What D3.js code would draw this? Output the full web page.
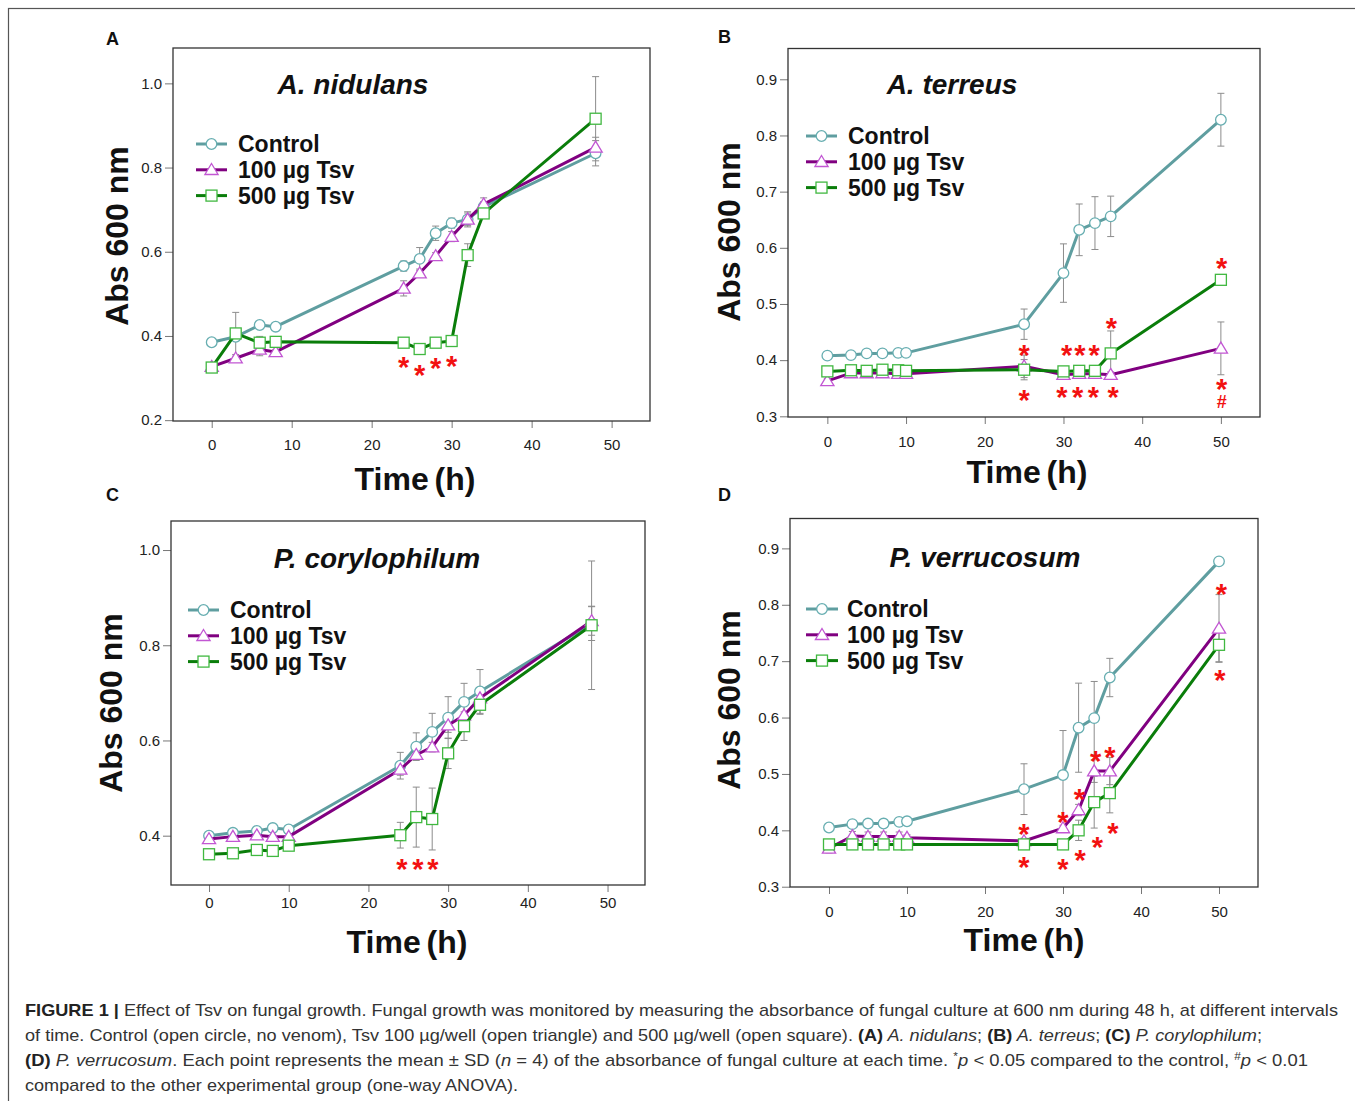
<!DOCTYPE html>
<html>
<head>
<meta charset="utf-8">
<script src="https://cdn.jsdelivr.net/npm/d3@7"></script>
<style>
  body { margin: 0; background: #fff; }
  svg { display: block; }
  text { font-family: "Liberation Sans", Arial, Helvetica, sans-serif; }
</style>
</head>
<body>
<script>
// ---- data ----
var seriesNames = ["Control", "100 µg Tsv", "500 µg Tsv"];
var xTicks = [0, 10, 20, 30, 40, 50];

// A. nidulans
var timesA = [0, 3, 6, 8, 24, 26, 28, 30, 32, 34, 48];
var controlA = [0.385, 0.398, 0.426, 0.422, 0.566, 0.583, 0.644, 0.668, 0.677, 0.707, 0.834];
var tsv100A = [0.327, 0.347, 0.368, 0.362, 0.513, 0.549, 0.590, 0.636, 0.677, 0.713, 0.848];
var tsv500A = [0.325, 0.406, 0.384, 0.386, 0.384, 0.369, 0.384, 0.388, 0.592, 0.691, 0.916];
var sdControlA = [0.004, 0.005, 0.005, 0.005, 0.012, 0.027, 0.017, 0.012, 0.018, 0.012, 0.030];
var sd100A = [0.004, 0.005, 0.015, 0.006, 0.018, 0.010, 0.008, 0.012, 0.015, 0.015, 0.024];
var sd500A = [0.005, 0.050, 0.015, 0.005, 0.005, 0.005, 0.005, 0.005, 0.027, 0.006, 0.100];
var yTicksA = [0.2, 0.4, 0.6, 0.8, 1.0];
var starsA = [[24, 0.343, "*"], [26, 0.324, "*"], [28, 0.339, "*"], [30, 0.345, "*"]];

// A. terreus
var timesB = [0, 3, 5, 7, 9, 10, 25, 30, 32, 34, 36, 50];
var controlB = [0.408, 0.409, 0.412, 0.412, 0.413, 0.413, 0.464, 0.555, 0.632, 0.644, 0.656, 0.828];
var tsv100B = [0.363, 0.377, 0.377, 0.377, 0.376, 0.376, 0.389, 0.374, 0.376, 0.376, 0.374, 0.421];
var tsv500B = [0.380, 0.382, 0.381, 0.383, 0.382, 0.381, 0.383, 0.380, 0.381, 0.381, 0.412, 0.543];
var sdControlB = [0.003, 0.003, 0.003, 0.003, 0.003, 0.003, 0.027, 0.052, 0.046, 0.047, 0.036, 0.047];
var sd100B = [0.004, 0.004, 0.004, 0.004, 0.004, 0.004, 0.020, 0.005, 0.005, 0.005, 0.005, 0.047];
var sd500B = [0.008, 0.004, 0.004, 0.004, 0.004, 0.004, 0.018, 0.004, 0.004, 0.004, 0.040, 0.004];
var yTicksB = [0.3, 0.4, 0.5, 0.6, 0.7, 0.8, 0.9];
var starsB = [[25, 0.422, "*"], [25, 0.341, "*"],
              [30.4, 0.422, "*"], [32.1, 0.422, "*"], [33.9, 0.422, "*"],
              [29.8, 0.346, "*"], [31.8, 0.346, "*"], [33.8, 0.346, "*"], [36.3, 0.346, "*"],
              [36.1, 0.469, "*"], [50.1, 0.577, "*"], [50.1, 0.361, "*"], [50.1, 0.326, "#"]];

// P. corylophilum
var timesC = [0, 3, 6, 8, 10, 24, 26, 28, 30, 32, 34, 48];
var controlC = [0.400, 0.406, 0.410, 0.416, 0.413, 0.547, 0.587, 0.618, 0.648, 0.681, 0.703, 0.846];
var tsv100C = [0.393, 0.398, 0.401, 0.398, 0.398, 0.539, 0.570, 0.586, 0.632, 0.653, 0.689, 0.851];
var tsv500C = [0.361, 0.363, 0.370, 0.368, 0.379, 0.401, 0.439, 0.435, 0.573, 0.630, 0.675, 0.842];
var sdControlC = [0.003, 0.003, 0.003, 0.003, 0.003, 0.028, 0.029, 0.039, 0.044, 0.039, 0.046, 0.036];
var sd100C = [0.003, 0.003, 0.003, 0.003, 0.003, 0.012, 0.010, 0.010, 0.015, 0.020, 0.020, 0.030];
var sd500C = [0.003, 0.003, 0.003, 0.003, 0.003, 0.027, 0.063, 0.065, 0.032, 0.030, 0.020, 0.135];
var yTicksC = [0.4, 0.6, 0.8, 1.0];
var starsC = [[24.2, 0.344, "*"], [26.2, 0.344, "*"], [28.1, 0.344, "*"]];

// P. verrucosum
var timesD = [0, 3, 5, 7, 9, 10, 25, 30, 32, 34, 36, 50];
var controlD = [0.405, 0.411, 0.412, 0.412, 0.415, 0.416, 0.473, 0.498, 0.582, 0.599, 0.671, 0.877];
var tsv100D = [0.368, 0.390, 0.389, 0.389, 0.389, 0.387, 0.381, 0.404, 0.436, 0.505, 0.505, 0.758];
var tsv500D = [0.375, 0.375, 0.375, 0.375, 0.375, 0.375, 0.375, 0.375, 0.400, 0.450, 0.466, 0.729];
var sdControlD = [0.003, 0.003, 0.003, 0.003, 0.003, 0.003, 0.045, 0.079, 0.079, 0.065, 0.034, 0.004];
var sd100D = [0.008, 0.008, 0.008, 0.008, 0.008, 0.005, 0.005, 0.005, 0.010, 0.020, 0.024, 0.060];
var sd500D = [0.003, 0.003, 0.003, 0.003, 0.003, 0.003, 0.003, 0.003, 0.018, 0.046, 0.035, 0.030];
var yTicksD = [0.3, 0.4, 0.5, 0.6, 0.7, 0.8, 0.9];
var starsD = [[25, 0.405, "*"], [25, 0.347, "*"], [30, 0.426, "*"], [30, 0.344, "*"],
              [32.1, 0.467, "*"], [32.2, 0.360, "*"], [34.2, 0.535, "*"], [34.4, 0.383, "*"],
              [36, 0.542, "*"], [36.4, 0.408, "*"], [50.3, 0.832, "*"], [50.1, 0.678, "*"]];

// ---- layout ----
var panels = [
  {letter: "A", title: "A. nidulans", times: timesA, vals: [controlA, tsv100A, tsv500A], sds: [sdControlA, sd100A, sd500A],
   yTicks: yTicksA, stars: starsA, box: [173, 48, 650, 421], xd: [-4.84, 54.8], yd: [0.198, 1.084],
   let: [106, 45], tit: [353, 94], leg: [196, 227, 238, 144], yl: [128, 236], xl: [415, 490], xPad: 11},
  {letter: "B", title: "A. terreus", times: timesB, vals: [controlB, tsv100B, tsv500B], sds: [sdControlB, sd100B, sd500B],
   yTicks: yTicksB, stars: starsB, box: [788, 48.5, 1260, 417], xd: [-5.0, 54.97], yd: [0.2988, 0.9548],
   let: [718, 43], tit: [952, 94], leg: [806, 837, 848, 136], yl: [740, 232], xl: [1027, 483], xPad: 12},
  {letter: "C", title: "P. corylophilum", times: timesC, vals: [controlC, tsv100C, tsv500C], sds: [sdControlC, sd100C, sd500C],
   yTicks: yTicksC, stars: starsC, box: [171, 521, 645, 885], xd: [-4.77, 54.7], yd: [0.2964, 1.061],
   let: [106, 501], tit: [377, 568], leg: [188, 219, 230, 610], yl: [122, 703], xl: [407, 953], xPad: 5},
  {letter: "D", title: "P. verrucosum", times: timesD, vals: [controlD, tsv100D, tsv500D], sds: [sdControlD, sd100D, sd500D],
   yTicks: yTicksD, stars: starsD, box: [790, 518.5, 1258, 887], xd: [-5.0, 55.0], yd: [0.2995, 0.953],
   let: [718, 501], tit: [985, 567], leg: [806, 838, 847, 609], yl: [740, 700], xl: [1024, 951], xPad: 12}
];

var lineColors = ["#5f9ea0", "#800080", "#0a7d0a"];
var markerColors = ["#67aeb1", "#c257d3", "#40b840"];
var shapes = ["circle", "triangle", "square"];
var fontStack = "Liberation Sans, Arial, Helvetica, sans-serif";

var svg = d3.select("body").append("svg")
    .attr("width", 1355)
    .attr("height", 1101);

svg.append("rect")
    .attr("x", 8.5).attr("y", 8.5)
    .attr("width", 1400).attr("height", 1200)
    .attr("fill", "none")
    .attr("stroke", "#555")
    .attr("stroke-width", 1.2);

function addMarker(sel, shape, color) {
  var m;
  if (shape == "circle") {
    m = sel.append("circle").attr("r", 5.3);
  } else if (shape == "triangle") {
    m = sel.append("path").attr("d", "M0,-6.3L6.6,4.7L-6.6,4.7Z");
  } else {
    m = sel.append("rect").attr("x", -5.5).attr("y", -5.5).attr("width", 11).attr("height", 11);
  }
  m.attr("fill", "#fff").attr("stroke", color).attr("stroke-width", 1.3);
}

panels.forEach(function(p) {
  var g = svg.append("g");
  var x = d3.scaleLinear().domain(p.xd).range([p.box[0], p.box[2]]);
  var y = d3.scaleLinear().domain(p.yd).range([p.box[3], p.box[1]]);

  var yAxis = g.append("g")
      .attr("transform", "translate(" + p.box[0] + ",0)")
      .call(d3.axisLeft(y).tickValues(p.yTicks).tickFormat(d3.format(".1f")).tickSize(8).tickPadding(3));
  var xAxis = g.append("g")
      .attr("transform", "translate(0," + p.box[3] + ")")
      .call(d3.axisBottom(x).tickValues(xTicks).tickSize(7).tickPadding(p.xPad));
  [yAxis, xAxis].forEach(function(a) {
    a.select(".domain").remove();
    a.attr("font-size", 15).attr("font-family", fontStack);
    a.selectAll("line").attr("stroke", "#777");
    a.selectAll("text").attr("fill", "#222");
  });

  g.append("rect")
      .attr("x", p.box[0]).attr("y", p.box[1])
      .attr("width", p.box[2] - p.box[0])
      .attr("height", p.box[3] - p.box[1])
      .attr("fill", "none")
      .attr("stroke", "#333")
      .attr("stroke-width", 1.3);

  // error bars under everything
  var eb = g.append("g").attr("stroke", "#8c8c8c").attr("stroke-width", 1);
  p.vals.forEach(function(vals, i) {
    vals.forEach(function(v, j) {
      var cx = x(p.times[j]), lo = y(v - p.sds[i][j]), hi = y(v + p.sds[i][j]);
      eb.append("line").attr("x1", cx).attr("x2", cx).attr("y1", lo).attr("y2", hi);
      eb.append("line").attr("x1", cx - 3.5).attr("x2", cx + 3.5).attr("y1", lo).attr("y2", lo);
      eb.append("line").attr("x1", cx - 3.5).attr("x2", cx + 3.5).attr("y1", hi).attr("y2", hi);
    });
  });

  var line = d3.line()
      .x(function(d, j) { return x(p.times[j]); })
      .y(function(d) { return y(d); });

  p.vals.forEach(function(vals, i) {
    g.append("path")
        .datum(vals)
        .attr("fill", "none")
        .attr("stroke", lineColors[i])
        .attr("stroke-width", 3)
        .attr("stroke-linejoin", "round")
        .attr("d", line);
    var mk = g.append("g").selectAll("g")
        .data(vals)
        .enter().append("g")
        .attr("transform", function(d, j) { return "translate(" + x(p.times[j]) + "," + y(d) + ")"; });
    addMarker(mk, shapes[i], markerColors[i]);
  });

  // significance marks
  g.append("g").selectAll("text")
      .data(p.stars)
      .enter().append("text")
      .attr("x", function(d) { return x(d[0]); })
      .attr("y", function(d) { return y(d[1]); })
      .attr("dy", function(d) { return d[2] == "#" ? "0.36em" : "0.58em"; })
      .attr("text-anchor", "middle")
      .attr("font-weight", "bold")
      .attr("font-size", function(d) { return d[2] == "#" ? 18 : 29; })
      .attr("fill", "#f21111")
      .text(function(d) { return d[2]; });

  // legend
  seriesNames.forEach(function(name, i) {
    var ly = p.leg[3] + i * 25.8;
    g.append("line")
        .attr("x1", p.leg[0]).attr("x2", p.leg[1])
        .attr("y1", ly).attr("y2", ly)
        .attr("stroke", lineColors[i])
        .attr("stroke-width", 3);
    addMarker(g.append("g").attr("transform", "translate(" + (p.leg[0] + p.leg[1]) / 2 + "," + ly + ")"), shapes[i], markerColors[i]);
    g.append("text")
        .attr("x", p.leg[2]).attr("y", ly + 8)
        .attr("font-size", 23)
        .attr("font-weight", "bold")
        .attr("fill", "#111")
        .text(name);
  });

  g.append("text")
      .attr("x", p.tit[0]).attr("y", p.tit[1])
      .attr("text-anchor", "middle")
      .attr("font-size", 28)
      .attr("font-weight", "bold")
      .attr("font-style", "italic")
      .attr("fill", "#111")
      .text(p.title);

  g.append("text")
      .attr("x", p.let[0]).attr("y", p.let[1])
      .attr("font-size", 18)
      .attr("font-weight", "bold")
      .attr("fill", "#111")
      .text(p.letter);

  g.append("text")
      .attr("transform", "translate(" + p.yl[0] + "," + p.yl[1] + ")rotate(-90)")
      .attr("text-anchor", "middle")
      .attr("font-size", 32)
      .attr("font-weight", "bold")
      .attr("fill", "#111")
      .text("Abs 600 nm");

  g.append("text")
      .attr("x", p.xl[0]).attr("y", p.xl[1])
      .attr("text-anchor", "middle")
      .attr("font-size", 32)
      .attr("font-weight", "bold")
      .attr("word-spacing", -3)
      .attr("fill", "#111")
      .text("Time (h)");
});

// ---- caption ----
var captionLines = [
  {y: 1016, w: 1313, parts: [["b", "FIGURE 1 | "], ["", "Effect of Tsv on fungal growth. Fungal growth was monitored by measuring the absorbance of fungal culture at 600 nm during 48 h, at different intervals"]]},
  {y: 1041, w: 1237, parts: [["", "of time. Control (open circle, no venom), Tsv 100 µg/well (open triangle) and 500 µg/well (open square). "], ["b", "(A)"], ["i", " A. nidulans"], ["", "; "], ["b", "(B)"], ["i", " A. terreus"], ["", "; "], ["b", "(C)"], ["i", " P. corylophilum"], ["", ";"]]},
  {y: 1066, w: 1283, parts: [["b", "(D)"], ["i", " P. verrucosum"], ["", ". Each point represents the mean ± SD ("], ["i", "n"], ["", " = 4) of the absorbance of fungal culture at each time. "], ["sup", "*"], ["i", "p"], ["", " < 0.05 compared to the control, "], ["sup", "#"], ["i", "p"], ["", " < 0.01"]]},
  {y: 1091, w: 493, parts: [["", "compared to the other experimental group (one-way ANOVA)."]]}
];

captionLines.forEach(function(l) {
  var t = svg.append("text")
      .attr("x", 25).attr("y", l.y)
      .attr("font-size", 17)
      .attr("fill", "#333")
      .attr("textLength", l.w)
      .attr("lengthAdjust", "spacingAndGlyphs");
  var raised = false;
  l.parts.forEach(function(pt) {
    var s = t.append("tspan").text(pt[1]);
    if (pt[0] == "b") s.attr("font-weight", "bold").attr("fill", "#222");
    if (pt[0] == "i") s.attr("font-style", "italic");
    if (pt[0] == "sup") { s.attr("font-size", 11).attr("dy", -6); raised = true; }
    else if (raised) { s.attr("dy", 6); raised = false; }
  });
});
</script>
</body>
</html>
